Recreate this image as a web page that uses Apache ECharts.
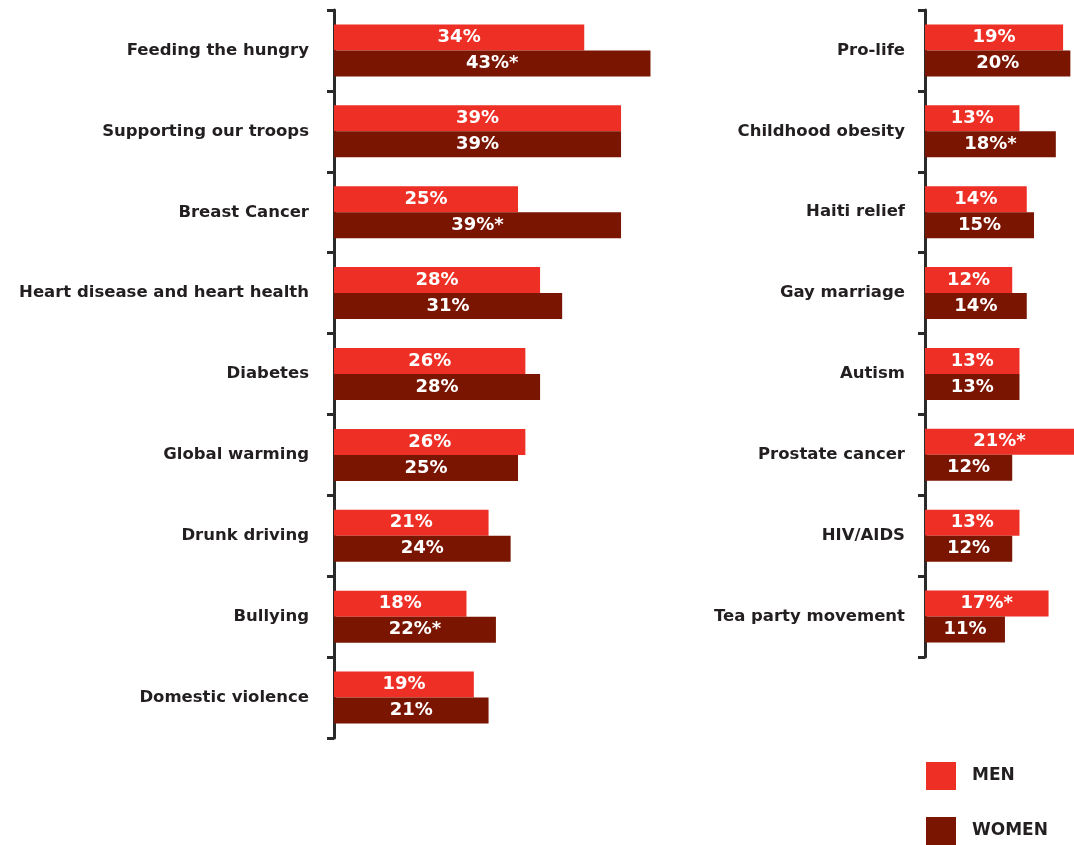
<!DOCTYPE html>
<html>
<head>
<meta charset="utf-8">
<script src="https://cdn.jsdelivr.net/npm/echarts@6/dist/echarts.min.js"></script>
<style>
  html, body { margin: 0; padding: 0; background: #fff; }
  #chart { width: 1074px; height: 845px; }
</style>
</head>
<body>
<div id="chart"></div>
<script>
// left panel
const leftCats = ['Feeding the hungry', 'Supporting our troops', 'Breast Cancer',
  'Heart disease and heart health', 'Diabetes', 'Global warming', 'Drunk driving',
  'Bullying', 'Domestic violence'];
const leftMen = [34, 39, 25, 28, 26, 26, 21, 18, 19];
const leftWomen = [43, 39, 39, 31, 28, 25, 24, 22, 21];
const leftMenStar = [false, false, false, false, false, false, false, false, false];
const leftWomenStar = [true, false, true, false, false, false, false, true, false];

// right panel
const rightCats = ['Pro-life', 'Childhood obesity', 'Haiti relief', 'Gay marriage',
  'Autism', 'Prostate cancer', 'HIV/AIDS', 'Tea party movement'];
const rightMen = [19, 13, 14, 12, 13, 21, 13, 17];
const rightWomen = [20, 18, 15, 14, 13, 12, 12, 11];
const rightMenStar = [false, false, false, false, false, true, false, true];
const rightWomenStar = [false, true, false, false, false, false, false, false];

const RED = '#ee2f25';
const DARK = '#7a1502';
const FONT = 'DejaVu Sans';

function bar(name, color, values, stars, idx) {
    return {
        name: name,
        type: 'bar',
        xAxisIndex: idx,
        yAxisIndex: idx,
        barWidth: 26,
        barGap: '0%',
        clip: true,
        itemStyle: { color: color },
        label: {
            show: true,
            position: 'inside',
            color: '#fff',
            fontFamily: FONT,
            fontWeight: 'bold',
            fontSize: 18,
            formatter: function (p) { return p.value + '%' + (stars[p.dataIndex] ? '*' : ''); }
        },
        data: values
    };
}

function catAxis(cats, idx, margin) {
    return {
        type: 'category',
        gridIndex: idx,
        inverse: true,
        data: cats,
        axisLine: { show: true, lineStyle: { color: '#2a2a2a', width: 3 } },
        axisTick: { show: true, alignWithLabel: false, length: 7, lineStyle: { color: '#2a2a2a', width: 3 } },
        axisLabel: {
            margin: margin,
            color: '#231f20',
            fontFamily: FONT,
            fontWeight: 'bold',
            fontSize: 16.5
        }
    };
}

const chart = echarts.init(document.getElementById('chart'));
chart.setOption({
    animation: false,
    backgroundColor: '#fff',
    legend: {
        data: ['MEN', 'WOMEN'],
        orient: 'vertical',
        left: 926,
        top: 762,
        padding: 0,
        itemWidth: 30,
        itemHeight: 28,
        itemGap: 27,
        icon: 'rect',
        textStyle: {
            color: '#231f20',
            fontFamily: FONT,
            fontWeight: 'bold',
            fontSize: 17,
            padding: [0, 0, 0, 11]
        }
    },
    grid: [
        { left: 334, top: 10, width: 329, height: 728 },
        { left: 925, top: 10, right: 0, height: 647 }
    ],
    xAxis: [
        { type: 'value', gridIndex: 0, min: 0, max: 44.7, show: false },
        { type: 'value', gridIndex: 1, min: 0, max: 20.5, show: false }
    ],
    yAxis: [
        catAxis(leftCats, 0, 25),
        catAxis(rightCats, 1, 20)
    ],
    series: [
        bar('MEN', RED, leftMen, leftMenStar, 0),
        bar('WOMEN', DARK, leftWomen, leftWomenStar, 0),
        bar('MEN', RED, rightMen, rightMenStar, 1),
        bar('WOMEN', DARK, rightWomen, rightWomenStar, 1)
    ]
});
</script>
</body>
</html>
